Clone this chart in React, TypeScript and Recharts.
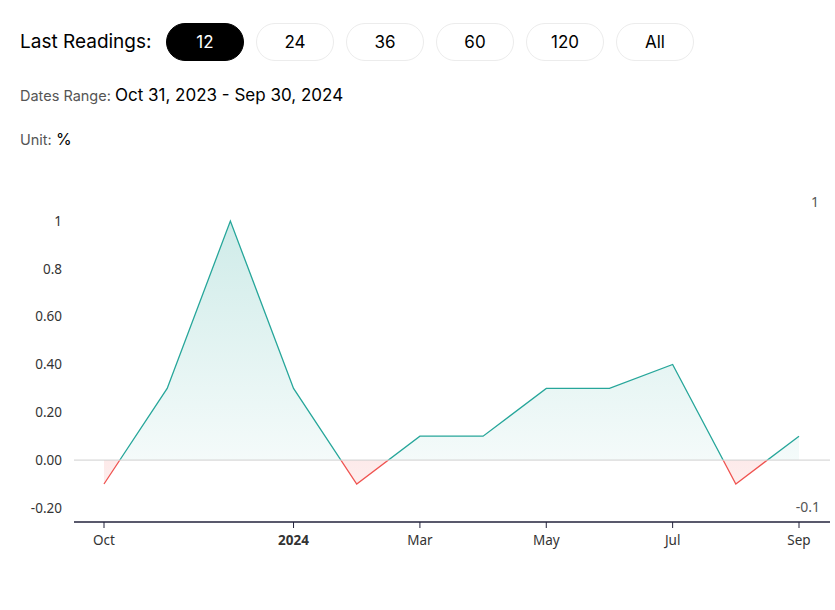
import React from "react";
import {
  AreaChart,
  Area,
  XAxis,
  YAxis,
  ReferenceLine,
} from "recharts";

const months = ["Oct", "Nov", "Dec", "Jan", "Feb", "Mar", "Apr", "May", "Jun", "Jul", "Aug", "Sep"];
const values = [-0.1, 0.3, 1.0, 0.3, -0.1, 0.1, 0.1, 0.3, 0.3, 0.4, -0.1, 0.1];

const xTicks = [0, 3, 5, 7, 9, 11];
const xTickLabels = ["Oct", "2024", "Mar", "May", "Jul", "Sep"];
const yTicks = [-0.2, 0, 0.2, 0.4, 0.6, 0.8, 1];
const yTickLabels = ["-0.20", "0.00", "0.20", "0.40", "0.60", "0.8", "1"];
const periods = ["12", "24", "36", "60", "120", "All"];

const data = months.map((m, i) => ({ idx: i, month: m, value: values[i] }));

const maxV = Math.max(...values);
const minV = Math.min(...values);
const zeroOffset = maxV / (maxV - minV);

const UP = "#26a69a";
const DOWN = "#ef5350";
const AXIS = "#22223b";

const XTick = (props: any) => {
  const { x, y, payload } = props;
  const i = xTicks.indexOf(payload.value);
  const label = xTickLabels[i];
  return (
    <text
      x={x}
      y={y}
      dy={15}
      textAnchor="middle"
      fontSize={13.5}
      fill="#333"
      fontWeight={label === "2024" ? 700 : 400}
      fontFamily="'Noto Sans', sans-serif"
    >
      {label}
    </text>
  );
};

const App = () => {
  return (
    <div
      style={{
        position: "absolute",
        left: 0,
        top: 0,
        width: 835,
        height: 610,
        background: "#fff",
        fontFamily: "Inter, 'Noto Sans', sans-serif",
        color: "#000",
      }}
    >
      <div style={{ position: "absolute", left: 20, top: 30, fontSize: 19 }}>Last Readings:</div>
      {periods.map((p, i) => (
        <div
          key={p}
          style={{
            position: "absolute",
            left: 166 + i * 90,
            top: 23,
            width: 78,
            height: 38,
            boxSizing: "border-box",
            borderRadius: 19,
            border: i === 0 ? "1px solid #000" : "1px solid #ececec",
            background: i === 0 ? "#000" : "#fff",
            color: i === 0 ? "#fff" : "#000",
            fontSize: 17,
            display: "flex",
            alignItems: "center",
            justifyContent: "center",
          }}
        >
          {p}
        </div>
      ))}
      <div style={{ position: "absolute", left: 20, top: 85 }}>
        <span style={{ fontSize: 14.5, color: "#555" }}>Dates Range: </span>
        <span style={{ fontSize: 17 }}>Oct 31, 2023 - Sep 30, 2024</span>
      </div>
      <div style={{ position: "absolute", left: 20, top: 129 }}>
        <span style={{ fontSize: 14.5, color: "#555" }}>Unit: </span>
        <span style={{ fontSize: 16 }}>%</span>
      </div>

      <div style={{ position: "absolute", left: 0, top: 170 }}>
        <AreaChart
          width={835}
          height={400}
          data={data}
          margin={{ top: 20, right: 5, bottom: 18, left: 0 }}
        >
          <defs>
            <linearGradient id="strokeSplit" x1="0" y1="0" x2="0" y2="1">
              <stop offset={0} stopColor={UP} />
              <stop offset={zeroOffset} stopColor={UP} />
              <stop offset={zeroOffset} stopColor={DOWN} />
              <stop offset={1} stopColor={DOWN} />
            </linearGradient>
            <linearGradient id="fillSplit" x1="0" y1="0" x2="0" y2="1">
              <stop offset={0} stopColor={UP} stopOpacity={0.22} />
              <stop offset={zeroOffset} stopColor={UP} stopOpacity={0.05} />
              <stop offset={zeroOffset} stopColor={DOWN} stopOpacity={0.12} />
              <stop offset={1} stopColor={DOWN} stopOpacity={0.1} />
            </linearGradient>
          </defs>
          <XAxis
            dataKey="idx"
            type="number"
            domain={[0, 11]}
            ticks={xTicks}
            padding={{ left: 30, right: 31 }}
            tick={<XTick />}
            tickLine={{ stroke: AXIS }}
            axisLine={{ stroke: AXIS, strokeWidth: 1.5 }}
            tickSize={6}
            tickMargin={2}
          />
          <YAxis
            type="number"
            domain={[-0.259, 1.13]}
            ticks={yTicks}
            tickFormatter={(v: number) => yTickLabels[yTicks.indexOf(v)] ?? ""}
            axisLine={false}
            tickLine={false}
            tickSize={6}
            tickMargin={6}
            width={74}
            tick={{ fontSize: 13.5, fill: "#333", fontFamily: "'Noto Sans', sans-serif" }}
            allowDataOverflow
          />
          <ReferenceLine y={0} stroke="#cfcfcf" strokeWidth={1} />
          <Area
            type="linear"
            dataKey="value"
            baseValue={0}
            stroke="url(#strokeSplit)"
            strokeWidth={1.3}
            fill="url(#fillSplit)"
            fillOpacity={1}
            dot={false}
            activeDot={false}
            isAnimationActive={false}
          />
        </AreaChart>
      </div>
      <div
        style={{
          position: "absolute",
          right: 16,
          top: 192,
          fontSize: 14,
          color: "#555",
          fontFamily: "'Noto Sans', sans-serif",
        }}
      >
        1
      </div>
      <div
        style={{
          position: "absolute",
          right: 15,
          top: 497,
          fontSize: 14,
          color: "#555",
          fontFamily: "'Noto Sans', sans-serif",
        }}
      >
        -0.1
      </div>
    </div>
  );
};

export default App;
